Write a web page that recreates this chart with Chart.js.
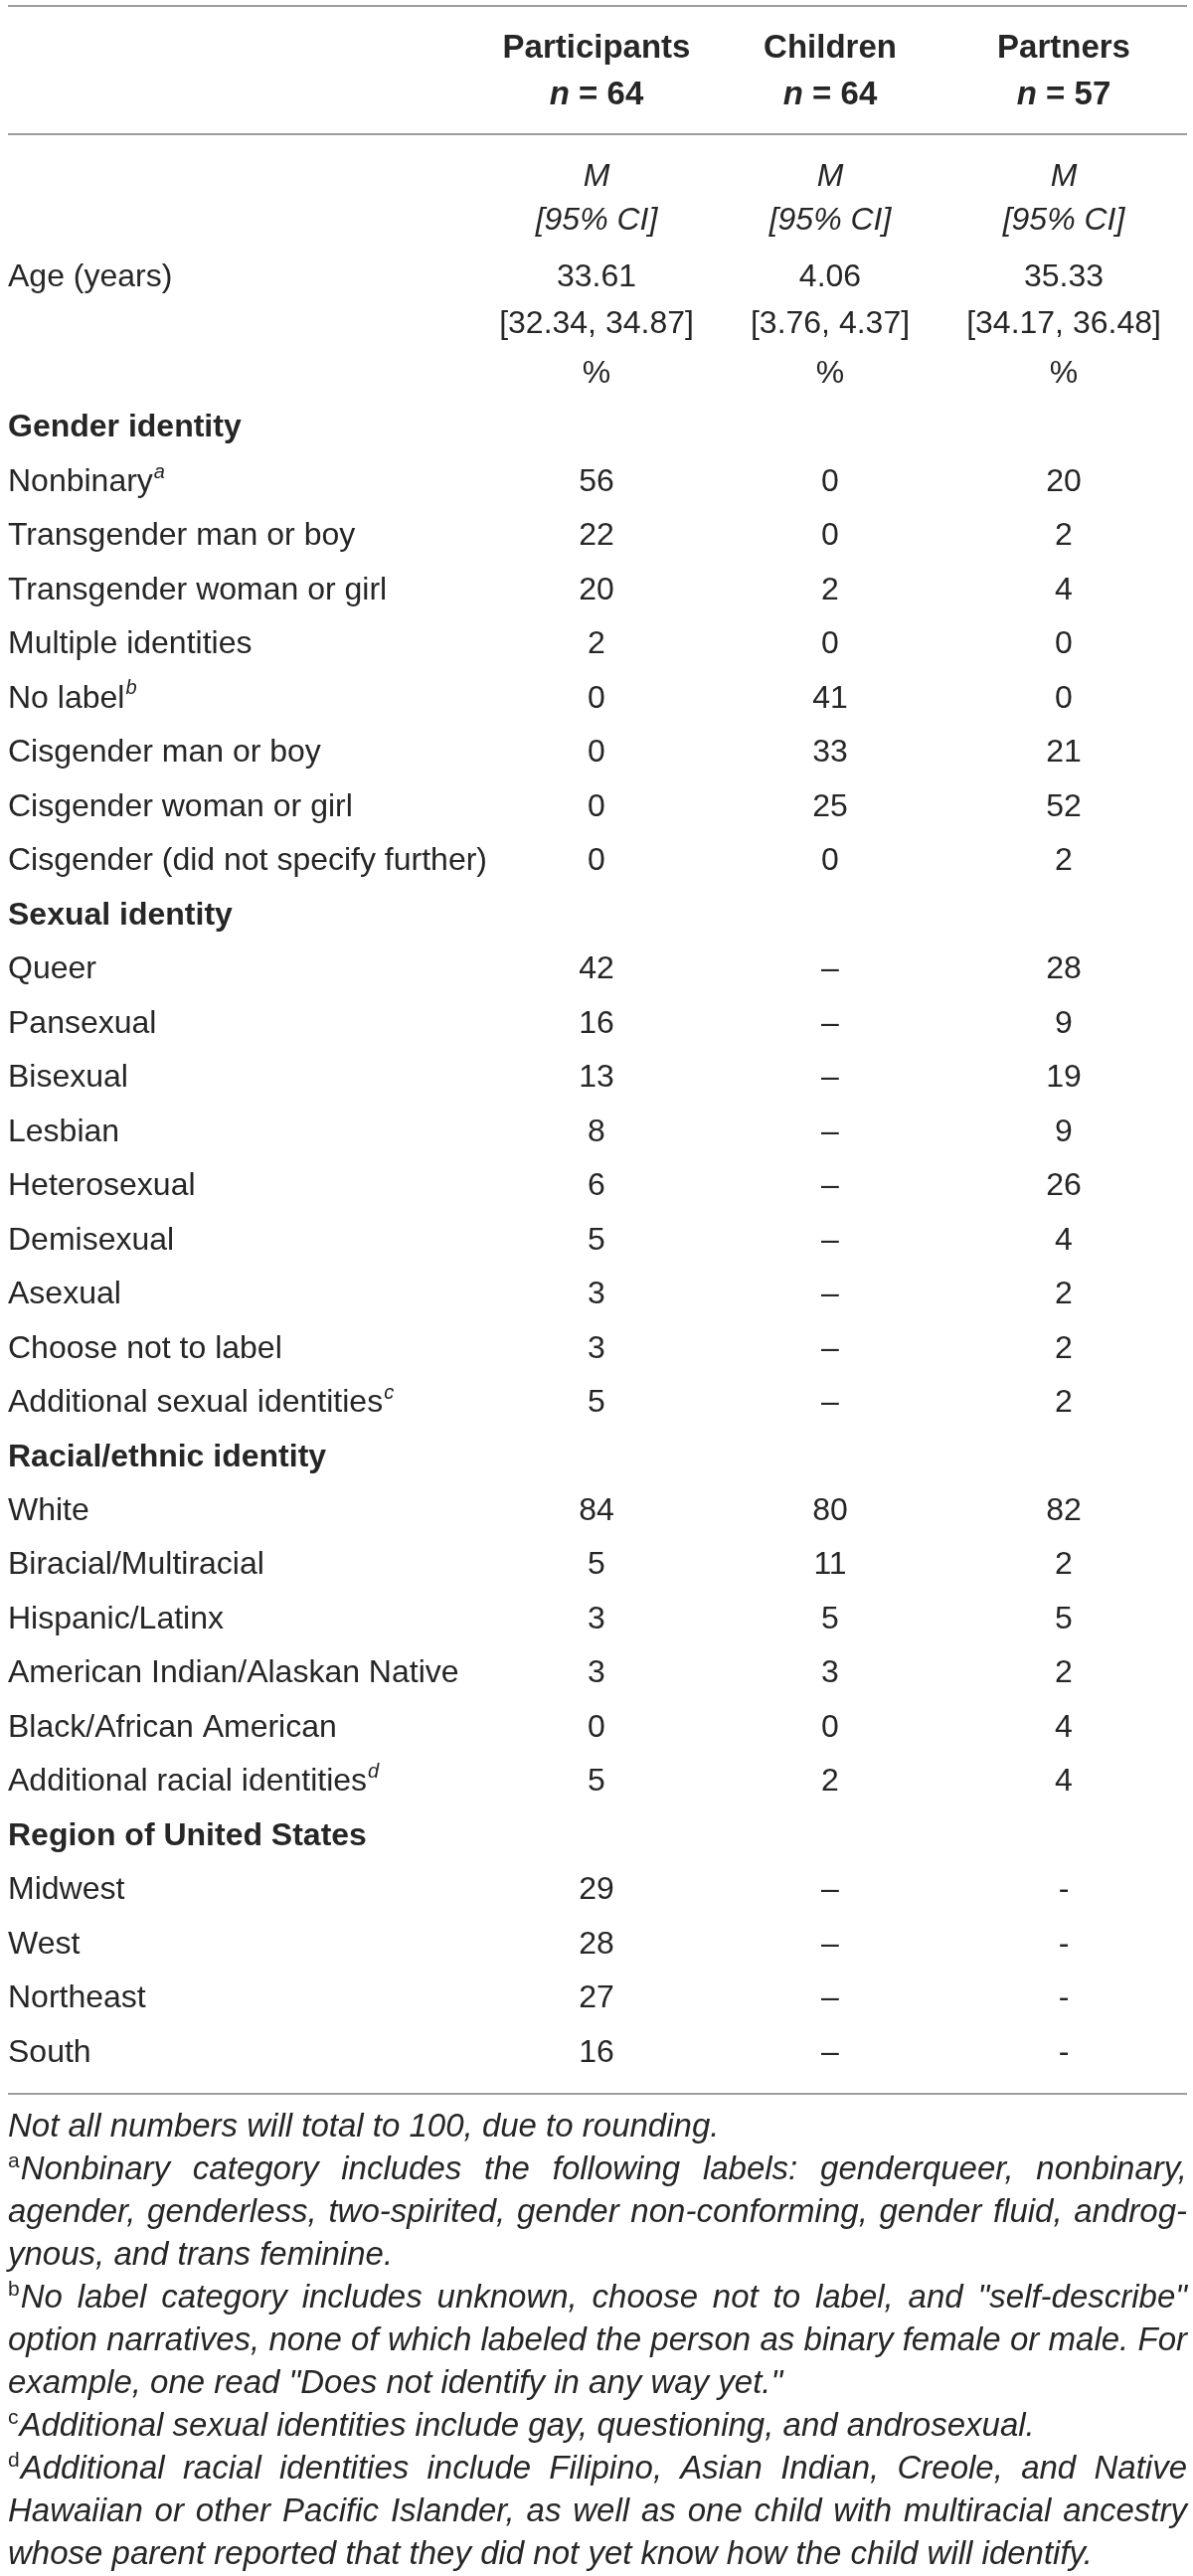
<!DOCTYPE html>
<html>
<head>
<meta charset="utf-8">
<script src="https://cdn.jsdelivr.net/npm/chart.js@4.4.1/dist/chart.umd.min.js"></script>
<style>
  html, body { margin: 0; padding: 0; background: #fff; }
  canvas { display: block; }
</style>
</head>
<body>
<canvas id="table" width="1200" height="2591"></canvas>
<script>
// column groups
const groups = ['Participants', 'Children', 'Partners'];
const groupN = [64, 64, 57];

// age (years): mean and 95% CI
const ageMean = ['33.61', '4.06', '35.33'];
const ageLow = ['32.34', '3.76', '34.17'];
const ageHigh = ['34.87', '4.37', '36.48'];

// rows under the % line (first row is the % line itself)
const rowLabels = [
  '',
  'Gender identity',
  'Nonbinary', 'Transgender man or boy', 'Transgender woman or girl', 'Multiple identities',
  'No label', 'Cisgender man or boy', 'Cisgender woman or girl', 'Cisgender (did not specify further)',
  'Sexual identity',
  'Queer', 'Pansexual', 'Bisexual', 'Lesbian', 'Heterosexual', 'Demisexual', 'Asexual',
  'Choose not to label', 'Additional sexual identities',
  'Racial/ethnic identity',
  'White', 'Biracial/Multiracial', 'Hispanic/Latinx', 'American Indian/Alaskan Native',
  'Black/African American', 'Additional racial identities',
  'Region of United States',
  'Midwest', 'West', 'Northeast', 'South'
];
const sectionRows = ['Gender identity', 'Sexual identity', 'Racial/ethnic identity', 'Region of United States'];
const rowNotes = {
  'Nonbinary': 'a',
  'No label': 'b',
  'Additional sexual identities': 'c',
  'Additional racial identities': 'd'
};

// percentages, null = not asked
const participants = [
  null, null,
  56, 22, 20, 2, 0, 0, 0, 0,
  null,
  42, 16, 13, 8, 6, 5, 3, 3, 5,
  null,
  84, 5, 3, 3, 0, 5,
  null,
  29, 28, 27, 16
];
const children = [
  null, null,
  0, 0, 2, 0, 41, 33, 25, 0,
  null,
  null, null, null, null, null, null, null, null, null,
  null,
  80, 11, 5, 3, 0, 2,
  null,
  null, null, null, null
];
const partners = [
  null, null,
  20, 2, 4, 0, 0, 21, 52, 2,
  null,
  28, 9, 19, 9, 26, 4, 2, 2, 2,
  null,
  82, 2, 5, 2, 4, 4,
  null,
  null, null, null, null
];
const groupValues = [participants, children, partners];
const missingMark = ['\u2013', '\u2013', '-'];

const footnotes = [
  { sup: '', text: 'Not all numbers will total to 100, due to rounding.', justify: false },
  { sup: 'a', text: 'Nonbinary category includes the following labels: genderqueer, nonbinary,', justify: true },
  { sup: '', text: 'agender, genderless, two-spirited, gender non-conforming, gender fluid, androg-', justify: true },
  { sup: '', text: 'ynous, and trans feminine.', justify: false },
  { sup: 'b', text: 'No label category includes unknown, choose not to label, and "self-describe"', justify: true },
  { sup: '', text: 'option narratives, none of which labeled the person as binary female or male. For', justify: true },
  { sup: '', text: 'example, one read "Does not identify in any way yet."', justify: false },
  { sup: 'c', text: 'Additional sexual identities include gay, questioning, and androsexual.', justify: false },
  { sup: 'd', text: 'Additional racial identities include Filipino, Asian Indian, Creole, and Native', justify: true },
  { sup: '', text: 'Hawaiian or other Pacific Islander, as well as one child with multiracial ancestry', justify: true },
  { sup: '', text: 'whose parent reported that they did not yet know how the child will identify.', justify: false }
];

const FAMILY = '"Liberation Sans", Arial, Helvetica, sans-serif';
const INK = '#262626';
const RULE = '#9d9d9d';
const LEFT = 8;
const RIGHT = 1194;

function font(size, style) {
  return (style || '') + ' ' + size + 'px ' + FAMILY;
}

function isDataRow(i) {
  return i > 0 && !sectionRows.includes(rowLabels[i]);
}

// one dataset per group, one point per data row (category labels as keys)
const datasets = groups.map(function (name, g) {
  const points = [];
  rowLabels.forEach(function (label, i) {
    if (isDataRow(i)) {
      points.push({ x: name, y: label, v: groupValues[g][i] });
    }
  });
  return { label: name, data: points, pointRadius: 0, showLine: false };
});

function rule(ctx, y) {
  ctx.save();
  ctx.strokeStyle = RULE;
  ctx.lineWidth = 2;
  ctx.beginPath();
  ctx.moveTo(LEFT, y);
  ctx.lineTo(RIGHT, y);
  ctx.stroke();
  ctx.restore();
}

function drawFootnote(ctx, line, y) {
  let x = LEFT;
  ctx.textAlign = 'left';
  if (line.sup) {
    ctx.font = font(21, '');
    ctx.fillText(line.sup, x, y - 9);
    x += ctx.measureText(line.sup).width + 1;
  }
  ctx.font = font(33, 'italic');
  const words = line.text.split(' ');
  const widths = words.map(w => ctx.measureText(w).width);
  const total = widths.reduce((a, b) => a + b, 0);
  let gap = ctx.measureText(' ').width;
  if (line.justify && words.length > 1) {
    gap = (RIGHT - x - total) / (words.length - 1);
  }
  words.forEach(function (w, k) {
    ctx.fillText(w, x, y);
    x += widths[k] + gap;
  });
}

const tablePlugin = {
  id: 'tableText',
  afterDraw(chart) {
    const ctx = chart.ctx;
    const xs = chart.scales.x;
    const ys = chart.scales.y;
    ctx.save();
    ctx.fillStyle = INK;
    ctx.textBaseline = 'middle';

    // rules
    rule(ctx, 6);
    rule(ctx, 135);
    const lastRow = ys.getPixelForValue(rowLabels.length - 1);
    rule(ctx, lastRow + 41);

    // column headings
    groups.forEach(function (name, g) {
      const cx = xs.getPixelForValue(g);
      ctx.textAlign = 'center';
      ctx.font = font(33, 'bold');
      ctx.fillText(name, cx, 49);

      // n = xx with italic n
      ctx.textAlign = 'left';
      ctx.font = font(33, 'italic bold');
      const wn = ctx.measureText('n').width;
      ctx.font = font(33, 'bold');
      const rest = ' = ' + groupN[g];
      const wr = ctx.measureText(rest).width;
      const x0 = cx - (wn + wr) / 2;
      ctx.font = font(33, 'italic bold');
      ctx.fillText('n', x0, 96);
      ctx.font = font(33, 'bold');
      ctx.fillText(rest, x0 + wn, 96);

      ctx.textAlign = 'center';
      ctx.font = font(32, 'italic');
      ctx.fillText('M', cx, 178);
      ctx.fillText('[95% CI]', cx, 222);

      ctx.font = font(32, '');
      ctx.fillText(ageMean[g], cx, 279);
      ctx.fillText('[' + ageLow[g] + ', ' + ageHigh[g] + ']', cx, 326);
      ctx.fillText('%', cx, ys.getPixelForValue(0));
    });
    ctx.textAlign = 'left';
    ctx.font = font(32, '');
    ctx.fillText('Age (years)', LEFT, 279);

    // row labels
    rowLabels.forEach(function (label, i) {
      if (!label) return;
      const y = ys.getPixelForValue(i);
      ctx.textAlign = 'left';
      ctx.font = sectionRows.includes(label) ? font(32, 'bold') : font(32, '');
      ctx.fillText(label, LEFT, y);
      if (rowNotes[label]) {
        const w = ctx.measureText(label).width;
        ctx.font = font(20, 'italic');
        ctx.fillText(rowNotes[label], LEFT + w + 1, y - 10);
      }
    });

    // cell values at the dataset points
    ctx.textAlign = 'center';
    ctx.font = font(32, '');
    chart.data.datasets.forEach(function (ds, g) {
      const meta = chart.getDatasetMeta(g);
      meta.data.forEach(function (pt, j) {
        const v = ds.data[j].v;
        ctx.fillText(v === null ? missingMark[g] : String(v), pt.x, pt.y);
      });
    });

    // footnotes
    const noteTop = lastRow + 75;
    footnotes.forEach(function (line, k) {
      drawFootnote(ctx, line, noteTop + k * 43);
    });
    ctx.restore();
  }
};

new Chart(document.getElementById('table'), {
  type: 'scatter',
  data: { datasets: datasets },
  options: {
    responsive: false,
    animation: false,
    devicePixelRatio: 1,
    layout: { padding: { left: 600, right: 130, top: 376, bottom: 526 } },
    scales: {
      x: { type: 'category', labels: groups, offset: false, display: false },
      y: { type: 'category', labels: rowLabels, offset: false, display: false }
    },
    plugins: {
      legend: { display: false },
      tooltip: { enabled: false }
    }
  },
  plugins: [tablePlugin]
});
</script>
</body>
</html>
